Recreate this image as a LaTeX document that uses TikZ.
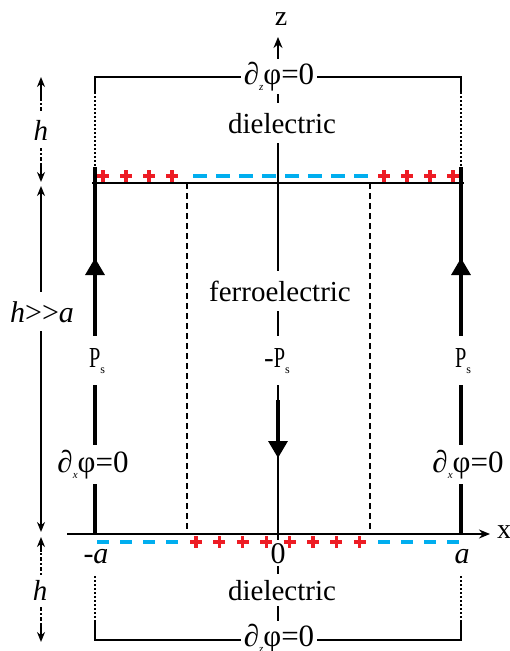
\documentclass[tikz,border=0pt]{standalone}
\usepackage{fontspec}
\setmainfont{Liberation Serif}
\usetikzlibrary{arrows.meta}
\definecolor{chargered}{RGB}{237, 28, 36}
\definecolor{chargeblue}{RGB}{0, 174, 239}
\newcommand{\lowsub}[2][11]{\raisebox{-6pt}{\fontsize{#1}{#1}\selectfont #2}}
\newcommand{\Psat}{\scalebox{0.7}[1]{P}\lowsub[12]{s}}

\begin{document}
\begin{tikzpicture}[x=1pt, y=-1pt,
  wall/.style={line width=2.5pt},
  sidewall/.style={line width=3.3pt},
  dotwall/.style={line width=2pt, dash pattern=on 2pt off 2pt},
  domainwall/.style={line width=1.2pt, dash pattern=on 6pt off 4pt},
  dimline/.style={line width=1.8pt, {Stealth[length=10pt,width=8pt]}-{Stealth[length=10pt,width=8pt]}},
  dimdot/.style={dimline, dash pattern=on 2pt off 2pt on 4pt off 2pt},
  pol/.style={line width=3.3pt, -{Triangle[length=17pt,width=19pt]}},
  lbl/.style={fill=white, inner xsep=2pt, inner ysep=8pt, font=\fontsize{29}{32}\selectfont},
  bclbl/.style={fill=white, inner sep=3pt, font=\fontsize{31}{34}\selectfont},
  pslbl/.style={fill=white, inner xsep=2pt, inner ysep=12pt, font=\fontsize{29}{32}\selectfont},
  plus/.style={chargered, line width=3.3pt},
  minus/.style={chargeblue, line width=3.5pt}
]
\useasboundingbox (0,0) rectangle (510,651);

% 外框（介质区）
\draw[wall] (95,92) -- (95,77) -- (461,77) -- (461,92);
\draw[dotwall] (95,92) -- (95,167);
\draw[dotwall] (461,92) -- (461,167);
\draw[wall] (95,622) -- (95,640) -- (461,640) -- (461,622);
\draw[dotwall] (95,576) -- (95,622);
\draw[dotwall] (461,576) -- (461,622);

% 铁电层
\draw[sidewall] (95,167) -- (95,535);
\draw[sidewall] (461,167) -- (461,535);
\draw[wall] (92,183) -- (464,183);
\draw[domainwall] (187,183) -- (187,534);
\draw[domainwall] (370,183) -- (370,534);

% 坐标轴
\coordinate (xstart) at (67,534);
\coordinate (xend) at (490,534);
\coordinate (zstart) at (278,640);
\coordinate (zend) at (278,37);
\draw[line width=2.2pt, -{Stealth[length=11pt,width=9pt]}] (xstart) -- (xend);
\draw[line width=2.5pt, -{Stealth[length=11pt,width=9pt]}] (zstart) -- (zend);
\node[font=\fontsize{28}{30}\selectfont, anchor=base] (xlab) at (504,538) {x};
\node[font=\fontsize{28}{30}\selectfont, anchor=base] (zlab) at (281,25) {z};

% 极化方向
\draw[pol] (95,300) -- (95,258);
\draw[pol] (461,300) -- (461,258);
\draw[pol] (278,400) -- (278,458);

% 文字
\node[bclbl, anchor=base] (bctop) at (279,84) {∂\lowsub{\itshape z}φ=0};
\node[bclbl, anchor=base] (bcbot) at (279,646) {∂\lowsub{\itshape z}φ=0};
\node[lbl, anchor=base, inner ysep=10pt] (dieltop) at (282,133) {dielectric};
\node[lbl, anchor=base, inner ysep=6pt] (dielbot) at (282,600) {dielectric};
\node[lbl, anchor=base, inner ysep=10pt] (ferro) at (280,301) {ferroelectric};
\node[pslbl, anchor=base] (psleft) at (97,367) {\Psat};
\node[pslbl, anchor=base] (psmid) at (277,367) {-\Psat};
\node[pslbl, anchor=base] (psright) at (463,367) {\Psat};
\node[bclbl, anchor=base, inner ysep=5pt] (bcleft) at (93,472) {∂\lowsub{\itshape x}φ=0};
\node[bclbl, anchor=base, inner ysep=5pt] (bcright) at (468,472) {∂\lowsub{\itshape x}φ=0};
\node[bclbl, anchor=base, inner ysep=3pt, font=\fontsize{30}{32}\selectfont] (xneg) at (96,563) {-\textit{a}};
\node[bclbl, anchor=base, inner ysep=3pt, font=\fontsize{30}{32}\selectfont] (xzero) at (278,563) {0};
\node[bclbl, anchor=base, inner ysep=3pt, font=\fontsize{30}{32}\selectfont] (xpos) at (462,563) {\textit{a}};

% 表面电荷
\foreach \px in {103,126,149,172,384,407,430,453}
  \draw[plus] (\px-6,176) -- (\px+6,176) (\px,170) -- (\px,182);
\foreach \i in {0,...,7}
  \draw[minus] (193+23*\i,176) -- (207+23*\i,176);
\foreach \i in {0,...,7}
  \draw[plus] (196+23.4*\i-6,542) -- (196+23.4*\i+6,542) (196+23.4*\i,536) -- (196+23.4*\i,548);
\foreach \px in {97,120,143,166,378,401,424,447}
  \draw[minus] (\px,542) -- (\px+12,542);

% 尺寸标注
\coordinate (htop1) at (41,77);
\coordinate (htop2) at (41,182);
\coordinate (hmid1) at (41,186);
\coordinate (hmid2) at (41,532);
\coordinate (hbot1) at (41,537);
\coordinate (hbot2) at (41,642);
\draw[dimdot] (htop1) -- (htop2);
\draw[line width=1.8pt] (41,80) -- (41,97) (41,163) -- (41,178);
\draw[dimline] (hmid1) -- (hmid2);
\draw[dimdot] (hbot1) -- (hbot2);
\draw[line width=1.8pt] (41,540) -- (41,552) (41,624) -- (41,638);
\node[lbl, anchor=base, inner ysep=8pt, font=\fontsize{29}{32}\selectfont\itshape] (htop) at (41,140) {h};
\node[lbl, anchor=base, inner ysep=9pt, inner xsep=1pt, font=\fontsize{30}{34}\selectfont] (hratio) at (42,322) {\textit{h}>{}>\textit{a}};
\node[lbl, anchor=base, inner ysep=5pt, font=\fontsize{29}{32}\selectfont\itshape] (hbot) at (40,600) {h};

\end{tikzpicture}
\end{document}
